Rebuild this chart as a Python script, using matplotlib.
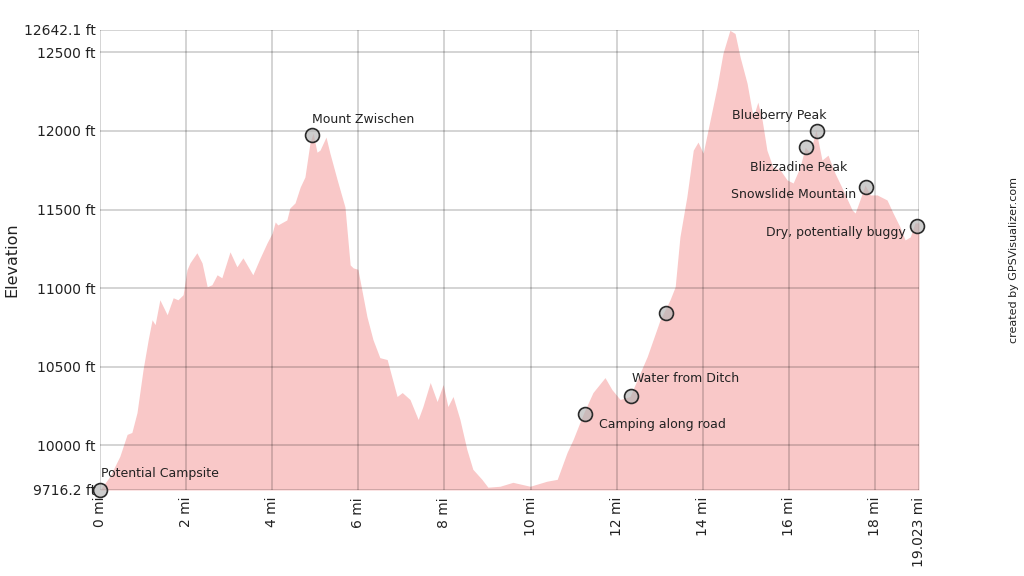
import matplotlib
matplotlib.use("Agg")
import matplotlib.pyplot as plt

# ---- data ----
dist_mi = [0.00, 0.23, 0.46, 0.63, 0.74, 0.86, 1.00, 1.12, 1.21, 1.28, 1.39, 1.56, 1.70, 1.81, 1.93,
           2.02, 2.09, 2.25, 2.37, 2.49, 2.60, 2.72, 2.83, 3.02, 3.18, 3.32, 3.55, 3.72, 3.88, 4.00,
           4.07, 4.13, 4.34, 4.41, 4.53, 4.65, 4.76, 4.88, 4.95, 5.04, 5.11, 5.25, 5.34, 5.51, 5.69,
           5.81, 5.88, 5.99, 6.20, 6.34, 6.50, 6.67, 6.90, 7.02, 7.20, 7.39, 7.50, 7.67, 7.83, 7.97,
           8.08, 8.20, 8.36, 8.52, 8.66, 8.87, 9.01, 9.29, 9.59, 9.99, 10.38, 10.62, 10.85, 10.99,
           11.22, 11.45, 11.73, 11.89, 12.08, 12.31, 12.71, 13.01, 13.24, 13.36, 13.47, 13.63, 13.78,
           13.89, 14.01, 14.17, 14.33, 14.47, 14.63, 14.75, 14.87, 15.03, 15.17, 15.28, 15.38, 15.49,
           15.63, 15.80, 15.96, 16.10, 16.26, 16.38, 16.49, 16.63, 16.77, 16.91, 17.07, 17.26, 17.47,
           17.54, 17.65, 17.77, 17.89, 18.05, 18.28, 18.42, 18.58, 18.70, 18.82, 18.93, 19.023]
elev_ft = [9716, 9803, 9930, 10070, 10082, 10209, 10482, 10673, 10799, 10768, 10926, 10831, 10939, 10926, 10958,
           11117, 11161, 11225, 11161, 11009, 11022, 11085, 11066, 11231, 11136, 11193, 11085, 11193, 11288, 11351,
           11421, 11402, 11434, 11510, 11542, 11643, 11707, 11929, 11986, 11865, 11878, 11961, 11859, 11688, 11516,
           11148, 11129, 11120, 10819, 10673, 10558, 10546, 10311, 10336, 10292, 10165, 10247, 10400, 10279, 10387,
           10247, 10311, 10165, 9975, 9848, 9784, 9734, 9740, 9765, 9740, 9772, 9784, 9956, 10038,
           10197, 10336, 10431, 10355, 10292, 10311, 10565, 10799, 10926, 11009, 11326, 11580, 11878,
           11929, 11859, 12068, 12278, 12494, 12640, 12620, 12468, 12303, 12088, 12183, 12068, 11878,
           11770, 11751, 11688, 11669, 11770, 11897, 11859, 12005, 11815, 11846, 11732, 11624, 11497,
           11478, 11561, 11656, 11593, 11593, 11561, 11478, 11390, 11307, 11326, 11415, 11415]

wpt_mi = [0.00, 4.92, 11.27, 12.33, 13.15, 16.40, 16.66, 17.79, 18.98]
wpt_ft = [9716, 11973, 10197, 10311, 10844, 11897, 11999, 11643, 11396]
wpt_names = ["Potential Campsite", "Mount Zwischen", "Camping along road", "Water from Ditch", "",
             "Blizzadine Peak", "Blueberry Peak", "Snowslide Mountain", "Dry, potentially buggy"]
# label offsets in points and alignment
wpt_offsets = [(1, 12), (0, 11), (10, -7), (1, 13), (0, 0), (30, -15), (7, 11), (-7, -5), (-8, -5)]
wpt_ha = ["left", "left", "left", "left", "left", "right", "right", "right", "right"]

x_min, x_max = 0.0, 19.023
y_min, y_max = 9716.2, 12642.1
xticks = [0, 2, 4, 6, 8, 10, 12, 14, 16, 18, 19.023]
xtick_labels = ["0 mi", "2 mi", "4 mi", "6 mi", "8 mi", "10 mi", "12 mi", "14 mi", "16 mi", "18 mi", "19.023 mi"]
yticks = [9716.2, 10000, 10500, 11000, 11500, 12000, 12500, 12642.1]
ytick_labels = ["9716.2 ft", "10000 ft", "10500 ft", "11000 ft", "11500 ft", "12000 ft", "12500 ft", "12642.1 ft"]

plt.rcParams['font.family'] = ['DejaVu Sans']
fig = plt.figure(figsize=(10.24, 5.76), dpi=100)
ax = fig.add_axes([100 / 1024, 1 - 490 / 576, 819 / 1024, 460 / 576])

ax.fill_between(dist_mi, elev_ft, y_min, color="#f9c8c8", linewidth=0, zorder=1)

ax.set_xlim(x_min, x_max)
ax.set_ylim(y_min, y_max)
ax.set_xticks(xticks)
ax.set_xticklabels(xtick_labels, rotation=90, fontsize=10, color="#222222")
ax.set_yticks(yticks)
ax.set_yticklabels(ytick_labels, fontsize=10, color="#222222")
ax.tick_params(axis="both", length=0)
ax.tick_params(axis="x", pad=5)
ax.tick_params(axis="y", pad=3)
ax.grid(True, color="black", alpha=0.18, linewidth=1.3, zorder=2)
ax.set_axisbelow(False)
for s in ax.spines.values():
    s.set_visible(False)

ax.set_ylabel("Elevation", fontsize=11.5, color="#222222")
ax.yaxis.set_label_coords((19 - 100) / 819, 0.5)

ax.plot(wpt_mi, wpt_ft, linestyle="none", marker="o", markersize=10,
        markerfacecolor=(0.7, 0.7, 0.7, 0.65), markeredgecolor="#2a2a2a",
        markeredgewidth=1.2, zorder=5, clip_on=False)

for x, y, name, off, ha in zip(wpt_mi, wpt_ft, wpt_names, wpt_offsets, wpt_ha):
    if name:
        ax.annotate(name, (x, y), xytext=off, textcoords="offset points",
                    ha=ha, va="center", fontsize=9, color="#222222", zorder=6,
                    annotation_clip=False)

fig.text(1014 / 1024, 1 - 260 / 576, "created by GPSVisualizer.com", rotation=90,
         ha="center", va="center", fontsize=8, color="#222222")

fig.savefig("out.png", dpi=100)
